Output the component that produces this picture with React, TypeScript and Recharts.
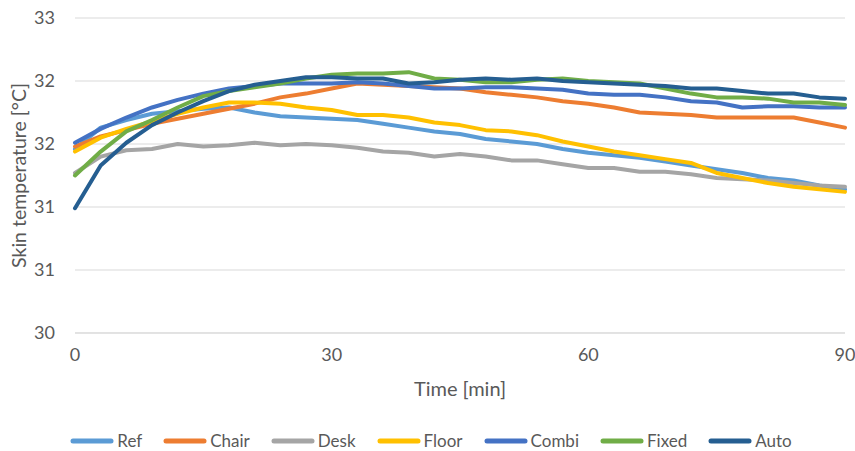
import React from 'react';
import { LineChart, Line, XAxis, YAxis, CartesianGrid, Legend } from 'recharts';

const times = [0, 3, 6, 9, 12, 15, 18, 21, 24, 27, 30, 33, 36, 39, 42, 45, 48, 51, 54, 57, 60, 63, 66, 69, 72, 75, 78, 81, 84, 87, 90];

const ref = [31.46, 31.63, 31.69, 31.74, 31.76, 31.78, 31.79, 31.75, 31.72, 31.71, 31.7, 31.69, 31.66, 31.63, 31.6, 31.58, 31.54, 31.52, 31.5, 31.46, 31.43, 31.41, 31.39, 31.36, 31.33, 31.3, 31.27, 31.23, 31.21, 31.17, 31.14];
const chair = [31.48, 31.56, 31.61, 31.66, 31.7, 31.74, 31.78, 31.82, 31.87, 31.9, 31.94, 31.98, 31.97, 31.96, 31.95, 31.94, 31.91, 31.89, 31.87, 31.84, 31.82, 31.79, 31.75, 31.74, 31.73, 31.71, 31.71, 31.71, 31.71, 31.67, 31.63];
const desk = [31.27, 31.4, 31.45, 31.46, 31.5, 31.48, 31.49, 31.51, 31.49, 31.5, 31.49, 31.47, 31.44, 31.43, 31.4, 31.42, 31.4, 31.37, 31.37, 31.34, 31.31, 31.31, 31.28, 31.28, 31.26, 31.23, 31.22, 31.21, 31.19, 31.17, 31.16];
const floor = [31.44, 31.55, 31.62, 31.68, 31.74, 31.79, 31.83, 31.83, 31.82, 31.79, 31.77, 31.73, 31.73, 31.71, 31.67, 31.65, 31.61, 31.6, 31.57, 31.52, 31.48, 31.44, 31.41, 31.38, 31.35, 31.27, 31.23, 31.19, 31.16, 31.14, 31.12];
const combi = [31.51, 31.62, 31.71, 31.79, 31.85, 31.9, 31.94, 31.96, 31.98, 31.98, 31.98, 31.99, 31.98, 31.96, 31.94, 31.94, 31.95, 31.95, 31.94, 31.93, 31.9, 31.89, 31.89, 31.87, 31.84, 31.83, 31.79, 31.8, 31.8, 31.79, 31.79];
const fixed = [31.25, 31.44, 31.6, 31.69, 31.79, 31.88, 31.92, 31.95, 31.98, 32.02, 32.05, 32.06, 32.06, 32.07, 32.02, 32.01, 31.99, 31.99, 32.01, 32.02, 32.0, 31.99, 31.98, 31.94, 31.9, 31.87, 31.87, 31.86, 31.83, 31.83, 31.81];
const auto = [30.99, 31.33, 31.51, 31.65, 31.75, 31.84, 31.92, 31.97, 32.0, 32.03, 32.03, 32.02, 32.02, 31.98, 31.99, 32.01, 32.02, 32.01, 32.02, 32.0, 31.99, 31.98, 31.97, 31.96, 31.94, 31.94, 31.92, 31.9, 31.9, 31.87, 31.86];

const xTicks = [0, 30, 60, 90];
const yTicks = [30, 30.5, 31, 31.5, 32, 32.5];

const seriesNames = ['Ref', 'Chair', 'Desk', 'Floor', 'Combi', 'Fixed', 'Auto'];
const seriesValues = [ref, chair, desk, floor, combi, fixed, auto];
const seriesColors = ['#5B9BD5', '#ED7D31', '#A5A5A5', '#FFC000', '#4472C4', '#70AD47', '#255E91'];

const data = times.map((t, i) => {
  const row: Record<string, number> = { t };
  seriesNames.forEach((n, k) => {
    row[n] = seriesValues[k][i];
  });
  return row;
});

const FONT = 'Lato, "Open Sans", sans-serif';
const TEXT = '#595959';

const LegendContent = () => (
  <div style={{ display: 'flex', justifyContent: 'center', alignItems: 'center', height: 50, paddingTop: 30, paddingLeft: 17, boxSizing: 'border-box' }}>
    {seriesNames.map((n, i) => (
      <div key={n} style={{ display: 'flex', alignItems: 'center', height: 20, marginRight: i === seriesNames.length - 1 ? 0 : 21 }}>
        <svg width={44} height={8} style={{ display: 'block' }}>
          <line x1={3} y1={4} x2={41} y2={4} stroke={seriesColors[i]} strokeWidth={5} strokeLinecap="round" />
        </svg>
        <span style={{ fontFamily: FONT, fontSize: 17, color: TEXT, marginLeft: 3, lineHeight: '20px', whiteSpace: 'nowrap' }}>{n}</span>
      </div>
    ))}
  </div>
);

const YLabel = (props: any) => {
  const vb = props.viewBox || { x: 0, y: 0, width: 0, height: 0 };
  const cx = vb.x + 18;
  const cy = vb.y + vb.height / 2;
  return (
    <text x={cx} y={cy} transform={`rotate(-90 ${cx} ${cy})`} textAnchor="middle" dominantBaseline="central" fill={TEXT} fontFamily={FONT} fontSize={19.5}>
      Skin temperature [°C]
    </text>
  );
};

export default function App() {
  return (
    <div style={{ position: 'absolute', left: 0, top: 0, width: 855, height: 451, background: '#fff' }}>
      <LineChart width={855} height={451} data={data} margin={{ top: 18, right: 10, left: 0, bottom: 0 }}>
        <CartesianGrid vertical={false} stroke="#D9D9D9" strokeWidth={1} />
        <XAxis
          dataKey="t"
          type="number"
          domain={[0, 90]}
          ticks={xTicks}
          axisLine={{ stroke: '#D9D9D9' }}
          tickLine={false}
          tickSize={0}
          tickMargin={15}
          height={68}
          tick={{ fill: TEXT, fontFamily: FONT, fontSize: 18 }}
          label={{ value: 'Time [min]', position: 'insideBottom', offset: 5, fill: TEXT, fontFamily: FONT, fontSize: 20 }}
        />
        <YAxis
          type="number"
          domain={[30, 32.5]}
          ticks={yTicks}
          tickFormatter={(v: number) => String(Math.round(v))}
          axisLine={false}
          tickLine={false}
          tickSize={0}
          tickMargin={20}
          width={75}
          tick={{ fill: TEXT, fontFamily: FONT, fontSize: 18 }}
          label={<YLabel />}
        />
        <Legend verticalAlign="bottom" height={50} content={<LegendContent />} />
        {seriesNames.map((n, k) => (
          <Line
            key={n}
            type="linear"
            dataKey={n}
            name={n}
            stroke={seriesColors[k]}
            strokeWidth={4}
            dot={false}
            activeDot={false}
            strokeLinejoin="round"
            strokeLinecap="round"
            isAnimationActive={false}
          />
        ))}
      </LineChart>
    </div>
  );
}
